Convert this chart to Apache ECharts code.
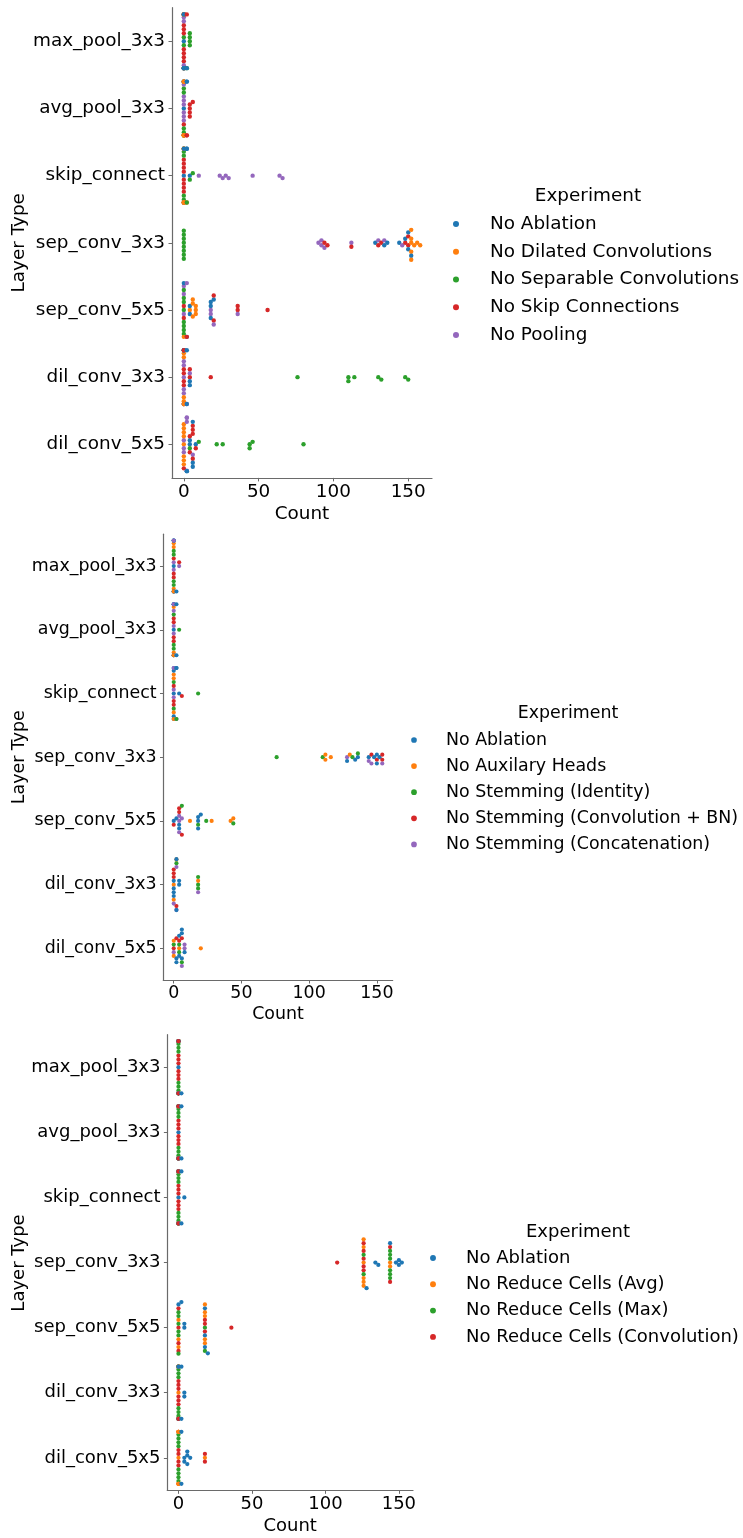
<!DOCTYPE html>
<html>
<head>
<meta charset="utf-8">
<script src="https://cdn.jsdelivr.net/npm/echarts@6/dist/echarts.min.js"></script>
<style>
html,body{margin:0;padding:0;background:#ffffff;}
#chart{width:743px;height:1538px;}
</style>
</head>
<body>
<div id="chart"></div>
<script>
// ---------------- DATA ----------------
const LAYER_TYPES = ['max_pool_3x3','avg_pool_3x3','skip_connect','sep_conv_3x3','sep_conv_5x5','dil_conv_3x3','dil_conv_5x5'];
const X_TICKS = [0, 50, 100, 150];
const COLORS = ['#1f77b4','#ff7f0e','#2ca02c','#d62728','#9467bd'];

const EXP_P1 = ['No Ablation','No Dilated Convolutions','No Separable Convolutions','No Skip Connections','No Pooling'];
const EXP_P2 = ['No Ablation','No Auxilary Heads','No Stemming (Identity)','No Stemming (Convolution + BN)','No Stemming (Concatenation)'];
const EXP_P3 = ['No Ablation','No Reduce Cells (Avg)','No Reduce Cells (Max)','No Reduce Cells (Convolution)'];

// rows follow LAYER_TYPES, one count per run
const noAblation = [
  [0,0,0,0,0,0,0,2],
  [0,0,0,2,0,0,0,2],
  [0,0,4,0,0,2,0,2],
  [150,144,136,152,128,150,134,148],
  [18,0,4,18,20,4,18,2],
  [4,2,0,0,0,4,0,2],
  [6,4,8,2,6,4,6,2]
];

// panel 1
const noDilated = [
  [0,0,0,0,0,0,0,0],
  [0,0,0,0,0,0,0,0],
  [0,0,0,0,0,0,0,2],
  [152,152,154,152,156,152,158,152],
  [6,4,8,0,6,8,6,8],
  [0,0,0,0,0,0,0,0],
  [0,0,0,0,0,0,0,0]
];
const noSeparable = [
  [4,4,0,4,2,0,4,0],
  [0,0,0,0,0,0,0,0],
  [4,0,6,0,2,0,0,0],
  [0,0,0,0,0,0,0,0],
  [0,0,0,0,0,0,0,0],
  [110,76,130,148,114,150,110,132],
  [44,4,22,80,46,10,26,44]
];
const noSkip = [
  [0,0,0,2,0,0,0,0],
  [4,2,4,0,6,4,2,4],
  [0,0,0,0,0,0,0,0],
  [94,112,130,96,148,132,150,150],
  [20,2,36,0,56,20,36,0],
  [4,0,18,0,4,0,0,0],
  [4,6,8,6,0,4,6,6]
];
const noPooling = [
  [0,0,0,0,0,0,0,0],
  [0,0,0,0,0,0,0,0],
  [24,10,46,28,64,26,30,66],
  [92,90,112,94,130,92,134,146],
  [18,2,36,0,18,20,0,0],
  [0,4,0,2,0,0,0,0],
  [2,0,2,6,0,2,0,2]
];

// panel 2
const noAuxHeads = [
  [0,0,0,0],
  [0,0,0,0],
  [0,0,0,0],
  [112,116,112,130],
  [12,42,28,44],
  [18,0,2,0],
  [0,4,0,20]
];
const stemIdentity = [
  [0,0,0,0],
  [0,4,0,0],
  [18,0,2,0],
  [110,136,76,132],
  [18,6,44,24],
  [18,2,18,18],
  [4,0,6,4]
];
const stemConvBN = [
  [0,4,0,0],
  [0,0,0,0],
  [0,6,0,0],
  [146,154,150,154],
  [4,0,6,4],
  [0,2,0,0],
  [2,0,6,4]
];
const stemConcat = [
  [0,0,4,0],
  [0,0,0,0],
  [0,0,2,0],
  [144,128,154,146],
  [4,6,4,4],
  [18,2,0,2],
  [8,0,6,8]
];

// panel 3
const reduceAvg = [
  [0,0,0,0,0,0,0,0],
  [0,0,0,0,0,0,0,0],
  [0,0,0,0,0,0,0,0],
  [126,144,126,126,126,144,126,126],
  [18,0,18,18,0,18,0,18],
  [0,0,0,0,0,0,0,0],
  [0,0,18,0,0,0,0,0]
];
const reduceMax = [
  [0,0,0,0,0,0,0,0],
  [0,0,0,0,0,0,0,0],
  [0,0,0,0,0,0,0,0],
  [144,144,126,144,144,126,144,144],
  [0,0,18,0,0,0,18,0],
  [0,0,0,0,0,0,0,0],
  [0,0,0,0,0,0,0,0]
];
const reduceConv = [
  [0,0,0,0,0,0,0,0],
  [0,0,0,0,0,0,0,0],
  [0,0,0,0,0,0,0,0],
  [126,108,144,126,126,144,126,126],
  [0,18,0,18,36,0,18,0],
  [0,0,0,0,0,0,0,0],
  [0,18,0,0,18,0,0,0]
];

const PANEL_DATA = [
  {names: EXP_P1, sets: [noAblation, noDilated, noSeparable, noSkip, noPooling]},
  {names: EXP_P2, sets: [noAblation, noAuxHeads, stemIdentity, stemConvBN, stemConcat]},
  {names: EXP_P3, sets: [noAblation, reduceAvg, reduceMax, reduceConv]}
];

// ---------------- LAYOUT / STYLE ----------------
const FONT = 'DejaVu Sans';
const TEXT = '#000000';
const AXIS = '#6a6a6a';
const LAYOUT = [
  {left:172, top:7.7, width:260, height:470.2, d:3.81, font:18.4,
   legX:456, legY:224, legStep:27.75, legDx:34, titleX:588, titleY:196, ytX:19},
  {left:163.3, top:534.2, width:229.4, height:446.0, d:3.61, font:17.4,
   legX:414, legY:740, legStep:26.1, legDx:32, titleX:568, titleY:713, ytX:19},
  {left:167.3, top:1034.7, width:245.7, height:456.6, d:3.70, font:18.0,
   legX:433, legY:1258, legStep:26.3, legDx:33, titleX:578, titleY:1232, ytX:19}
];

// numpy-style introsort argsort (default "quicksort" kind)
function npArgsort(v) {
  const n = v.length;
  const t = [];
  for (let i = 0; i < n; i++) t.push(i);
  if (n < 2) return t;
  const sw = (a, b) => { const tmp = t[a]; t[a] = t[b]; t[b] = tmp; };
  let pl = 0, pr = n - 1;
  const stack = [];
  for (;;) {
    while (pr - pl > 16) {
      const pm = pl + ((pr - pl) >> 1);
      if (v[t[pm]] < v[t[pl]]) sw(pm, pl);
      if (v[t[pr]] < v[t[pm]]) sw(pr, pm);
      if (v[t[pm]] < v[t[pl]]) sw(pm, pl);
      const vp = v[t[pm]];
      let pi = pl, pj = pr - 1;
      sw(pm, pj);
      for (;;) {
        do { ++pi; } while (v[t[pi]] < vp);
        do { --pj; } while (vp < v[t[pj]]);
        if (pi >= pj) break;
        sw(pi, pj);
      }
      sw(pi, pr - 1);
      if (pi - pl < pr - pi) { stack.push([pi + 1, pr]); pr = pi - 1; }
      else { stack.push([pl, pi - 1]); pl = pi + 1; }
    }
    for (let pi = pl + 1; pi <= pr; ++pi) {
      const vi = t[pi]; const vp = v[vi];
      let pj = pi, pk = pi - 1;
      while (pj > pl && vp < v[t[pk]]) { t[pj--] = t[pk--]; }
      t[pj] = vi;
    }
    if (!stack.length) break;
    const s = stack.pop(); pl = s[0]; pr = s[1];
  }
  return t;
}

// seaborn-style beeswarm; returns offsets (display-up px) for sorted value px
function beeswarm(vpx, d) {
  const xs = [0], ys = [vpx[0]];
  for (let i = 1; i < vpx.length; i++) {
    const yi = vpx[i];
    let s = xs.length;
    while (s > 0 && (yi - ys[s - 1]) < d) s--;
    const nx = xs.slice(s), ny = ys.slice(s);
    const cand = [0];
    let leftFirst = true;
    for (let k = 0; k < nx.length; k++) {
      const dy = yi - ny[k];
      const dx = Math.sqrt(Math.max(d * d - dy * dy, 0)) * 1.05;
      const cl = nx[k] - dx, cr = nx[k] + dx;
      if (leftFirst) cand.push(cl, cr); else cand.push(cr, cl);
      leftFirst = !leftFirst;
    }
    const order = npArgsort(cand.map(c => Math.abs(c)));
    let chosen = cand[order[order.length - 1]];
    for (const idx of order) {
      const c = cand[idx];
      let ok = true;
      for (let k = 0; k < nx.length; k++) {
        const ddx = nx[k] - c, ddy = ny[k] - yi;
        if (ddx * ddx + ddy * ddy < d * d) { ok = false; break; }
      }
      if (ok) { chosen = c; break; }
    }
    xs.push(chosen); ys.push(yi);
  }
  return xs;
}

const option = {
  animation: false,
  backgroundColor: '#ffffff',
  grid: [], xAxis: [], yAxis: [], series: [], legend: [], graphic: []
};

PANEL_DATA.forEach((P, p) => {
  const L = LAYOUT[p];
  let vmin = Infinity, vmax = -Infinity;
  P.sets.forEach(set => set.forEach(row => row.forEach(v => { vmin = Math.min(vmin, v); vmax = Math.max(vmax, v); })));
  const pad = (vmax - vmin) * 0.05;
  const xmin = vmin - pad, xmax = vmax + pad;
  const pxPerUnit = L.width / (xmax - xmin);
  const catPx = L.height / LAYER_TYPES.length;

  option.grid.push({left: L.left, top: L.top, width: L.width, height: L.height, containLabel: false});

  const s = L.font / 18.4;
  option.xAxis.push({
    type: 'value', gridIndex: p, min: xmin, max: xmax,
    axisLine: {show: true, onZero: false, lineStyle: {color: AXIS, width: 1.2}},
    axisTick: {show: true, customValues: X_TICKS, length: 3.5 * s, lineStyle: {color: AXIS, width: 1}},
    axisLabel: {show: true, customValues: X_TICKS, fontSize: L.font, fontFamily: FONT, color: TEXT, margin: 3.8 * s, lineHeight: Math.round(L.font * 1.15)},
    splitLine: {show: false},
    name: 'Count', nameLocation: 'middle', nameGap: 25.5 * s,
    nameTextStyle: {fontSize: L.font, fontFamily: FONT, color: TEXT, lineHeight: Math.round(L.font * 1.15)}
  });
  option.yAxis.push({
    type: 'category', gridIndex: p, data: LAYER_TYPES, inverse: true,
    axisLine: {show: true, onZero: false, lineStyle: {color: AXIS, width: 1.2}},
    axisTick: {show: true, alignWithLabel: true, length: 3.5 * s, lineStyle: {color: AXIS, width: 1}},
    axisLabel: {fontSize: L.font, fontFamily: FONT, color: TEXT, margin: 7 * s},
    splitLine: {show: false}
  });
  option.yAxis.push({type: 'value', gridIndex: p, min: -0.5, max: 6.5, inverse: true, show: false});

  // swarm points
  const items = [];
  LAYER_TYPES.forEach((cat, c) => {
    const vals = [], exps = [];
    P.sets.forEach((set, e) => set[c].forEach(v => { vals.push(v); exps.push(e); }));
    const sorter = npArgsort(vals);
    const sv = sorter.map(i => vals[i]);
    const se = sorter.map(i => exps[i]);
    const offs = beeswarm(sv.map(v => v * pxPerUnit), L.d);
    for (let k = 0; k < sv.length; k++) {
      let y = c - offs[k] / catPx;
      y = Math.max(c - 0.4, Math.min(c + 0.4, y));
      items.push({value: [sv[k], y], itemStyle: {color: COLORS[se[k]], opacity: 1}});
    }
  });
  option.series.push({
    type: 'scatter', name: 'swarm' + (p + 1), xAxisIndex: p, yAxisIndex: 2 * p + 1,
    symbol: 'circle', symbolSize: L.d * 1.15, data: items, silent: true, z: 3,
    itemStyle: {opacity: 1}, legendHoverLink: false
  });
  // legend entries
  P.names.forEach((nm, e) => {
    option.series.push({
      type: 'scatter', name: nm, xAxisIndex: p, yAxisIndex: 2 * p + 1,
      data: [], itemStyle: {color: COLORS[e], opacity: 1}, symbol: 'circle'
    });
  });
  const W = 2 * (L.legDx - 5);
  const lh = Math.round(L.font * 1.08);
  option.legend.push({
    orient: 'vertical', left: L.legX - 3 * s, top: L.legY - lh / 2, padding: 0,
    itemWidth: W, itemHeight: 6 * s, itemGap: L.legStep - lh, icon: 'circle',
    selectedMode: false, data: P.names,
    itemStyle: {opacity: 1},
    textStyle: {fontSize: L.font, fontFamily: FONT, color: TEXT, lineHeight: lh}
  });
  option.graphic.push({
    type: 'text', x: L.titleX, y: L.titleY, silent: true,
    style: {text: 'Experiment', fontSize: L.font, fontFamily: FONT, fill: TEXT, align: 'center', verticalAlign: 'middle'}
  });
  option.graphic.push({
    type: 'text', x: L.ytX, y: L.top + L.height / 2, rotation: Math.PI / 2, silent: true,
    style: {text: 'Layer Type', fontSize: L.font, fontFamily: FONT, fill: TEXT, align: 'center', verticalAlign: 'middle'}
  });
});

const chart = echarts.init(document.getElementById('chart'), null, {renderer: 'canvas'});
chart.setOption(option);
</script>
</body>
</html>
